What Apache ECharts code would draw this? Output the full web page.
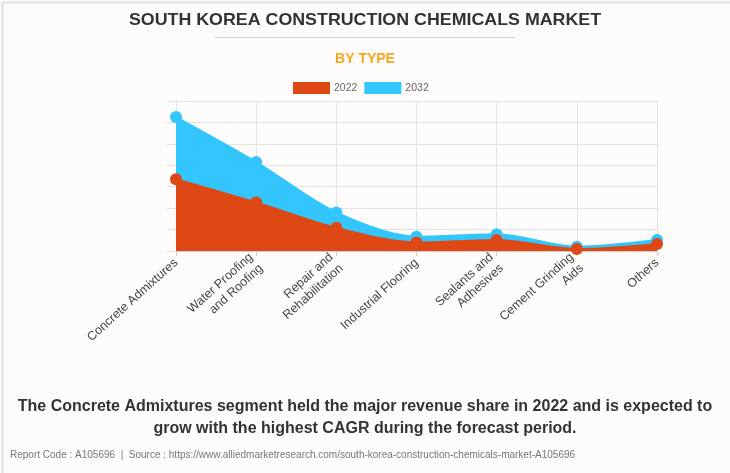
<!DOCTYPE html>
<html>
<head>
<meta charset="utf-8">
<script src="https://cdn.jsdelivr.net/npm/echarts@6/dist/echarts.min.js"></script>
<style>
html,body{margin:0;padding:0;background:#fdfcfa;}
#c{width:730px;height:473px;}
</style>
</head>
<body>
<div id="c"></div>
<script>
const categories = ["Concrete Admixtures", "Water Proofing\nand Roofing", "Repair and\nRehabilitation", "Industrial Flooring", "Sealants and\nAdhesives", "Cement Grinding\nAids", "Others"];
const values2022 = [3.35, 2.26, 1.08, 0.40, 0.51, 0.09, 0.33];
const values2032 = [6.25, 4.15, 1.80, 0.67, 0.78, 0.20, 0.51];
const yTicks = [0, 1, 2, 3, 4, 5, 6, 7];

const chart = echarts.init(document.getElementById('c'), null, {renderer: 'canvas'});
const font = 'Arial, "Liberation Sans", sans-serif';
chart.setOption({
  backgroundColor: '#fdfcfa',
  animation: false,
  legend: {
    data: ['2022', '2032'],
    top: 77,
    left: 288,
    itemWidth: 37,
    itemHeight: 12,
    itemGap: 7,
    icon: 'rect',
    textStyle: {color: '#666', fontSize: 10.5, fontFamily: font, padding: [0, 0, 0, -1]}
  },
  grid: {left: 176, right: 73, top: 101, bottom: 222},
  xAxis: {
    type: 'category',
    data: categories,
    boundaryGap: false,
    axisLine: {lineStyle: {color: '#ccc'}},
    axisTick: {show: true, length: 5, lineStyle: {color: '#ccc'}},
    splitLine: {show: true, lineStyle: {color: '#e3e3e3'}},
    axisLabel: {rotate: 42, color: '#444', fontSize: 12.5, fontFamily: font, lineHeight: 15, margin: 10, interval: 0}
  },
  yAxis: {
    type: 'value',
    min: yTicks[0],
    max: yTicks[yTicks.length - 1],
    interval: 1,
    axisLine: {show: false},
    axisTick: {show: true, length: 9, lineStyle: {color: '#e3e3e3'}},
    axisLabel: {show: false},
    splitLine: {show: true, lineStyle: {color: '#e3e3e3'}}
  },
  series: [
    {
      name: '2032', type: 'line', data: values2032, smooth: 0.3,
      symbol: 'circle', symbolSize: 12,
      itemStyle: {color: '#33c6fd'},
      lineStyle: {width: 2, color: '#33c6fd'},
      areaStyle: {color: '#33c6fd', opacity: 1}, z: 2
    },
    {
      name: '2022', type: 'line', data: values2022, smooth: 0.3,
      symbol: 'circle', symbolSize: 12,
      itemStyle: {color: '#dd4815'},
      lineStyle: {width: 2, color: '#dd4815'},
      areaStyle: {color: '#dd4815', opacity: 1}, z: 3
    }
  ],
  graphic: [
    {type: 'rect', left: 0, top: 0, shape: {width: 729, height: 472}, style: {fill: 'none', stroke: '#e2e2e2', lineWidth: 2}, silent: true},
    {type: 'text', x: 365, y: 12, scaleX: 1.08, style: {text: 'SOUTH KOREA CONSTRUCTION CHEMICALS MARKET', font: 'bold 16.5px ' + font, fill: '#333', align: 'center', textAlign: 'center', verticalAlign: 'top', textVerticalAlign: 'top'}},
    {type: 'line', shape: {x1: 215, y1: 37.5, x2: 515, y2: 37.5}, style: {stroke: '#ccc', lineWidth: 1}},
    {type: 'text', left: 'center', top: 52, style: {text: 'BY TYPE', font: 'bold 14px ' + font, fill: '#f7a722'}},
    {type: 'text', left: 'center', top: 399, style: {text: 'The Concrete Admixtures segment held the major revenue share in 2022 and is expected to', font: 'bold 16px ' + font, fill: '#333'}},
    {type: 'text', left: 'center', top: 421, style: {text: 'grow with the highest CAGR during the forecast period.', font: 'bold 16px ' + font, fill: '#333'}},
    {type: 'text', left: 10, top: 450, style: {text: 'Report Code : A105696  |  Source : https://www.alliedmarketresearch.com/south-korea-construction-chemicals-market-A105696', font: '10px ' + font, fill: '#777'}}
  ]
});
</script>
</body>
</html>
